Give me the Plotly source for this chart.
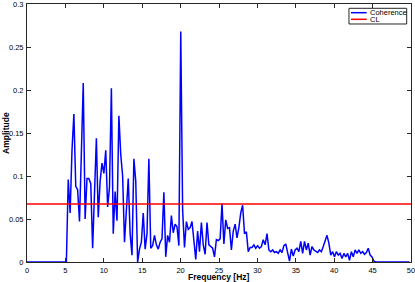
import plotly.graph_objects as go

# Frequency grid step of the spectrum (Hz)
FREQ_STEP = 250 / 1024

coherence = [
    0, 0, 0, 0, 0, 0, 0, 0, 0, 0,
    0, 0, 0, 0, 0, 0, 0, 0, 0, 0,
    0, 0, 0.096, 0.057, 0.13, 0.172, 0.088, 0.084, 0.047, 0.12,
    0.208, 0.05, 0.097, 0.097, 0.091, 0.016, 0.072, 0.144, 0.052, 0.094,
    0.115, 0.103, 0.13, 0.064, 0.087, 0.202, 0.033, 0.082, 0.048, 0.17,
    0.125, 0.1, 0.023, 0.064, 0.097, 0.033, 0.008, 0.12, 0.094, 0.0,
    0.015, 0.023, 0.057, 0.015, 0.033, 0.12, 0.016, 0.019, 0.031, 0.02,
    0.015, 0.023, 0.027, 0.081, 0.006, 0.031, 0.023, 0.054, 0.034, 0.044,
    0.041, 0.019, 0.268, 0.06, 0.017, 0.047, 0.038, 0.04, 0.047, 0.025,
    0.003, 0.036, 0.012, 0.046, 0.02, 0.009, 0.046, 0.02, 0.018, 0.016,
    0.006, 0.026, 0.025, 0.027, 0.068, 0.021, 0.049, 0.039, 0.04, 0.014,
    0.036, 0.044, 0.028, 0.04, 0.057, 0.066, 0.033, 0.035, 0.012, 0.017,
    0.017, 0.02, 0.016, 0.019, 0.016, 0.018, 0.026, 0.02, 0.033, 0.014,
    0.012, 0.014, 0.011, 0.012, 0.01, 0.014, 0.011, 0.019, 0.021, 0.01,
    0.001, 0.015, 0.007, 0.014, 0.016, 0.012, 0.024, 0.01, 0.024, 0.014,
    0.022, 0.008, 0.018, 0.014, 0.012, 0.011, 0.014, 0.012, 0.018, 0.026,
    0.031, 0.022, 0.008, 0.012, 0.006, 0.012, 0.008, 0.01, 0.004, 0.01,
    0.006, 0.01, 0.002, 0.012, 0.006, 0.014, 0.01, 0.014, 0.01, 0.012,
    0.009, 0.011, 0.016, 0.008, 0.006, 0.001, 0, 0, 0, 0,
    0, 0, 0, 0, 0, 0, 0, 0, 0, 0,
    0, 0, 0, 0, 0,
]
freq = [i * FREQ_STEP for i in range(len(coherence))]

cl_level = 0.0675
cl_x = [0, 50]
cl_y = [cl_level, cl_level]

series_names = ["Coherence", "CL"]
series_colors = ["#0000ff", "#ff0000"]

x_ticks = [0, 5, 10, 15, 20, 25, 30, 35, 40, 45, 50]
y_ticks = [0, 0.05, 0.1, 0.15, 0.2, 0.25, 0.3]
y_tick_labels = ["0", "0.05", "0.1", "0.15", "0.2", "0.25", "0.3"]

FONT = "Liberation Sans, Arial, Helvetica, sans-serif"

fig = go.Figure()
fig.add_trace(go.Scatter(x=freq, y=coherence, mode="lines", name=series_names[0],
                         line=dict(color=series_colors[0], width=1.5)))
fig.add_trace(go.Scatter(x=cl_x, y=cl_y, mode="lines", name=series_names[1],
                         line=dict(color=series_colors[1], width=1.5)))

axis_common = dict(showline=True, linecolor="#262626", linewidth=1, mirror="ticks",
                   ticks="inside", ticklen=4, tickcolor="#262626", showgrid=False,
                   zeroline=False, automargin=False, ticklabeloverflow="allow",
                   tickfont=dict(family=FONT, size=7.5, color="#000"))

fig.update_layout(
    width=415, height=282,
    margin=dict(l=27, r=4, t=4, b=20),
    paper_bgcolor="white", plot_bgcolor="white",
    xaxis=dict(range=[0, 50], tickvals=x_ticks, ticklabelstandoff=1, **axis_common),
    yaxis=dict(range=[0, 0.3], tickvals=y_ticks, ticktext=y_tick_labels,
               ticklabelstandoff=1, **axis_common),
    showlegend=False,
)

# Axis titles
fig.add_annotation(text="<b>Frequency [Hz]</b>", xref="paper", yref="paper",
                   x=0.5, y=-0.058, xanchor="center", yanchor="middle", showarrow=False,
                   borderpad=0, font=dict(family=FONT, size=8.5, color="#000"))
fig.add_annotation(text="<b>Amplitude</b>", xref="paper", yref="paper",
                   x=-0.055, y=0.5, xanchor="center", yanchor="middle", showarrow=False,
                   borderpad=0, textangle=-90, font=dict(family=FONT, size=8.5, color="#000"))

# MATLAB-style compact legend box
fig.add_shape(type="rect", xref="paper", yref="paper",
              x0=0.8385, x1=0.9888, y0=0.9225, y1=0.9833,
              line=dict(color="#262626", width=1), fillcolor="white", layer="above")
legend_rows_y = [0.9663, 0.9407]
for name, color, ly in zip(series_names, series_colors, legend_rows_y):
    fig.add_shape(type="line", xref="paper", yref="paper",
                  x0=0.8438, x1=0.8845, y0=ly, y1=ly,
                  line=dict(color=color, width=1.5), layer="above")
    fig.add_annotation(text=name, xref="paper", yref="paper",
                       x=0.8905, y=ly, xanchor="left", yanchor="middle",
                       showarrow=False, borderpad=0,
                       font=dict(family=FONT, size=7.5, color="#000"))

fig.write_html("out.html",
               config={"displayModeBar": False, "staticPlot": True},
               post_script="document.body.style.margin='0';"
                           "document.body.style.overflow='hidden';")
